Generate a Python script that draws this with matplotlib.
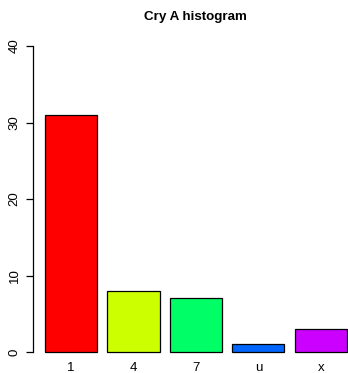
import matplotlib
matplotlib.use("Agg")
import matplotlib.pyplot as plt

# counts per category
categories = ["1", "4", "7", "u", "x"]
counts = [31, 8, 7, 1, 3]
bar_colors = ["#FF0000", "#CCFF00", "#00FF66", "#0066FF", "#CC00FF"]
y_ticks = [0, 10, 20, 30, 40]

plt.rcParams['font.family'] = ['Liberation Sans', 'DejaVu Sans']

W, H = 348, 373
fig = plt.figure(figsize=(W / 100, H / 100), dpi=100)
ax = fig.add_axes([33 / W, (H - 352) / H, (W - 33) / W, (352 - 46) / H])

# R style barplot: width 1, space 0.2
centers = [0.7 + 1.2 * i for i in range(len(counts))]
ax.bar(centers, counts, width=1.0, color=bar_colors, edgecolor="black",
       linewidth=0.9, clip_on=False)

ax.set_xlim(-0.03, 6.02)
ax.set_ylim(0, 40)

for s in ["top", "right", "bottom"]:
    ax.spines[s].set_visible(False)
ax.spines["left"].set_linewidth(0.9)

ax.set_yticks(y_ticks)
ax.set_yticklabels([str(v) for v in y_ticks], rotation=90, va="center",
                   fontsize=9.5)
ax.tick_params(axis="y", length=5, width=0.9, pad=4)

ax.set_xticks(centers)
ax.set_xticklabels(categories, fontsize=9.5)
ax.tick_params(axis="x", length=0, pad=7.5)

fig.text(195 / W, 1 - 17 / H, "Cry A histogram", ha="center", va="center",
         fontsize=9.6, fontweight="bold")

fig.savefig("out.png", dpi=100)
